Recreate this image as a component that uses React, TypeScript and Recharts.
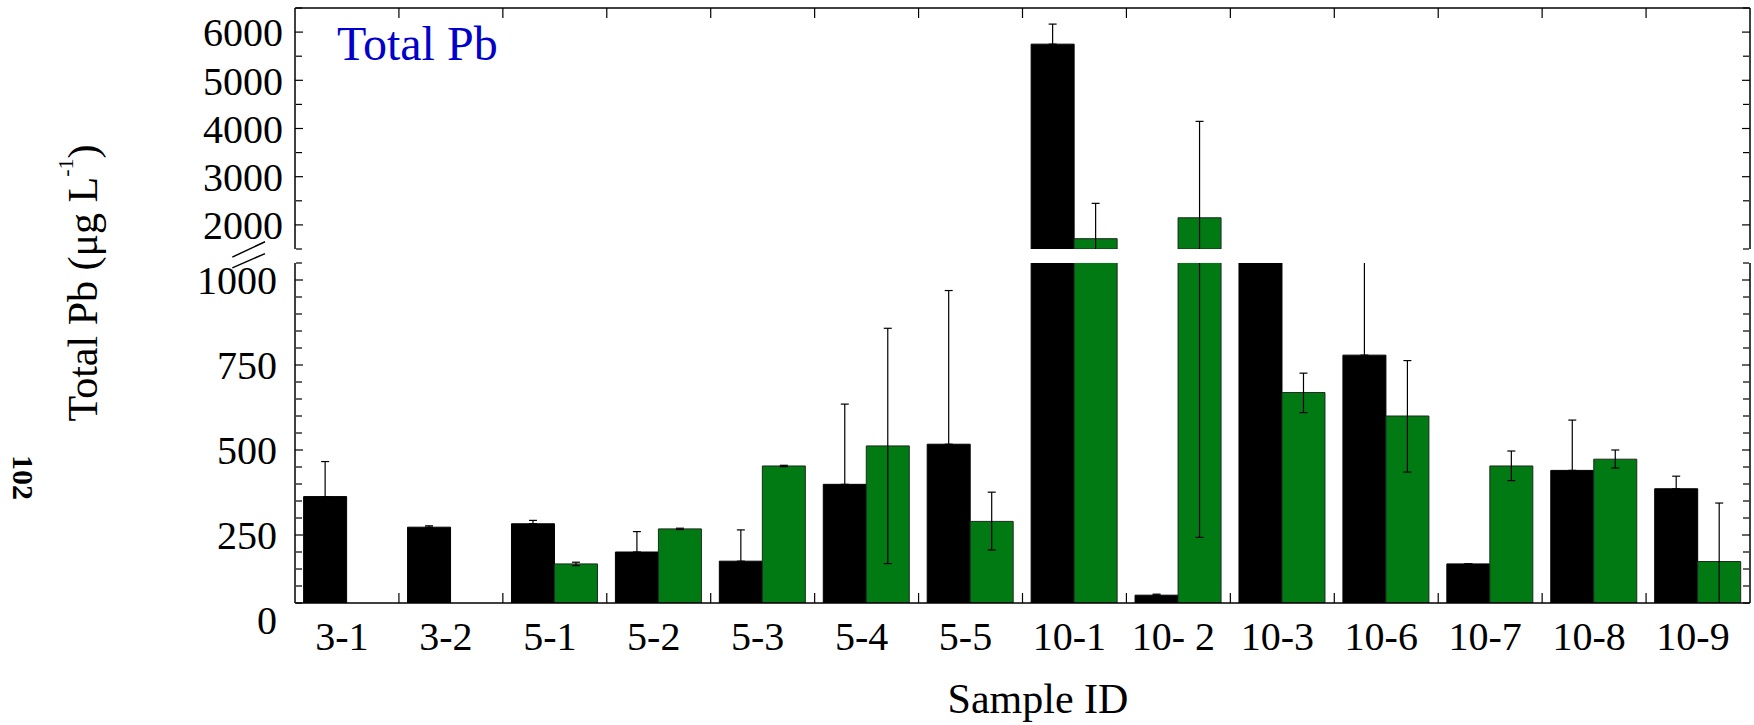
import { BarChart, Bar, XAxis, YAxis, ErrorBar } from 'recharts';

// sample IDs and values (µg/L)
const categories = ['3-1', '3-2', '5-1', '5-2', '5-3', '5-4', '5-5', '10-1', '10- 2', '10-3', '10-6', '10-7', '10-8', '10-9'];
const blackValues = [363, 273, 283, 200, 173, 399, 517, 5750, 73, 1470, 779, 165, 440, 386];
const blackErrors = [103, 4, 10, 60, 92, 236, 452, 416, 3, 30, 330, 0, 148, 37];
const greenValues = [null, null, 165, 268, 453, 512, 290, 1714, 2148, 669, 600, 453, 473, 172];
const greenErrLow = [0, 0, 5, 2, 2, 346, 84, 250, 1905, 59, 165, 43, 26, 172];
const greenErrHigh = [0, 0, 5, 2, 2, 346, 86, 733, 2000, 57, 163, 44, 27, 172];

const upperTicks = [2000, 3000, 4000, 5000, 6000];
const upperMinorTicks = [1500, 2500, 3500, 4500, 5500, 6500];
const lowerTicks = [0, 250, 500, 750, 1000];
const lowerMajorMarks = [250, 500, 750, 1000];
const lowerMinorTicks = [50, 100, 150, 200, 300, 350, 400, 450, 550, 600, 650, 700, 800, 850, 900, 950, 1050];

const UPPER = [1500, 6500];
const LOWER = [50, 1050];

const data = categories.map((name, i) => ({
  name,
  black: blackValues[i],
  blackErr: [0, blackErrors[i]],
  green: greenValues[i],
  greenErr: [greenErrLow[i], greenErrHigh[i]],
}));

// the upper panel only shows what rises above the break
const upperData = data.map((d) => ({
  ...d,
  black: d.black != null && d.black > UPPER[0] ? d.black : null,
  green: d.green != null && d.green > UPPER[0] ? d.green : null,
}));

const FONT = '"Liberation Serif", "Times New Roman", serif';
const GREEN = '#027a13';
const AX = { stroke: '#000', strokeWidth: 1.5 };
const TL = { stroke: '#000', strokeWidth: 1.2 };
const tickStyle = { fontSize: 40, fill: '#000', fontFamily: FONT };

const W = 1754;
const LEFT = 295;
const RIGHT = 4;
const HALF_BAND = (W - LEFT - RIGHT) / categories.length / 2;

const NoLabel = () => <g />;

// bottom axis: sample label under the band, short inward mark at the band's right edge
const XTick = (props: any) => {
  const { x, y, payload, index } = props;
  return (
    <g>
      {index < categories.length - 1 && <line x1={x + HALF_BAND} x2={x + HALF_BAND} y1={y} y2={y - 10} stroke="#000" strokeWidth={1.2} />}
      <text x={x - 5} y={y + 46.5} textAnchor="middle" fontSize={40} fontFamily={FONT} fill="#000">
        {payload.value}
      </text>
    </g>
  );
};

// top axis: only the inward marks at band edges
const TopTick = (props: any) => {
  const { x, y, index } = props;
  if (index >= categories.length - 1) return <g />;
  return <line x1={x + HALF_BAND} x2={x + HALF_BAND} y1={y} y2={y + 10} stroke="#000" strokeWidth={1.2} />;
};

// bars + error bars, drawn in a box that is exactly the plot area so everything is cut at the break
const BarsLayer = ({ rows, domain, top, height }: any) => (
  <div style={{ position: 'absolute', left: 0, top, width: W, height, overflow: 'hidden' }}>
    <BarChart width={W} height={height} data={rows} margin={{ top: 0, right: RIGHT, bottom: 0, left: LEFT }} barCategoryGap="8.3%" barGap={0}>
      <XAxis dataKey="name" hide />
      <YAxis domain={domain} hide allowDataOverflow />
      <Bar dataKey="black" fill="#000" stroke="#000" strokeWidth={1} isAnimationActive={false}>
        <ErrorBar dataKey="blackErr" width={4} stroke="#000" strokeWidth={1.2} direction="y" isAnimationActive={false} />
      </Bar>
      <Bar dataKey="green" fill={GREEN} stroke="#1d2b1d" strokeWidth={1} isAnimationActive={false}>
        <ErrorBar dataKey="greenErr" width={4} stroke="#000" strokeWidth={1.2} direction="y" isAnimationActive={false} />
      </Bar>
    </BarChart>
  </div>
);

// inward tick marks on the left and right frame lines
const frameYAxes = (domain: number[], major: number[], minor: number[]) => [
  <YAxis key="lmaj" yAxisId="lmaj" domain={domain} ticks={major} interval={0} mirror width={1} tick={NoLabel} tickSize={8} axisLine={false} tickLine={TL} allowDataOverflow />,
  <YAxis key="lmin" yAxisId="lmin" domain={domain} ticks={minor} interval={0} mirror width={1} tick={NoLabel} tickSize={6} axisLine={false} tickLine={TL} allowDataOverflow />,
  <YAxis key="rmaj" yAxisId="rmaj" orientation="right" domain={domain} ticks={major} interval={0} mirror width={1} tick={NoLabel} tickSize={8} axisLine={AX} tickLine={TL} allowDataOverflow />,
  <YAxis key="rmin" yAxisId="rmin" orientation="right" domain={domain} ticks={minor} interval={0} mirror width={1} tick={NoLabel} tickSize={6} axisLine={false} tickLine={TL} allowDataOverflow />,
];

const App = () => {
  return (
    <div style={{ position: 'absolute', left: 0, top: 0, width: W, height: 725, background: '#fff' }}>
      <BarsLayer rows={upperData} domain={UPPER} top={8} height={241} />
      <BarsLayer rows={data} domain={LOWER} top={263} height={340} />

      {/* upper panel frame, ticks and labels */}
      <div style={{ position: 'absolute', left: 0, top: 0, width: W, height: 269 }}>
        <BarChart width={W} height={269} data={upperData} margin={{ top: 0, right: RIGHT, bottom: 20, left: 0 }}>
          <XAxis dataKey="name" orientation="top" height={8} interval={0} tickSize={0} tickMargin={0} tickLine={false} axisLine={AX} tick={<TopTick />} />
          <YAxis yAxisId="v" domain={UPPER} ticks={upperTicks} interval={0} width={LEFT} tickSize={0} tickMargin={12} tickLine={false} axisLine={AX} tick={tickStyle} allowDataOverflow />
          {frameYAxes(UPPER, upperTicks, upperMinorTicks)}
        </BarChart>
      </div>

      {/* lower panel frame, ticks and labels */}
      <div style={{ position: 'absolute', left: 0, top: 243, width: W, height: 482 }}>
        <BarChart width={W} height={482} data={data} margin={{ top: 20, right: RIGHT, bottom: 62, left: 0 }}>
          <XAxis dataKey="name" height={60} interval={0} tickLine={false} tickSize={0} tickMargin={0} axisLine={AX} tick={<XTick />} />
          <YAxis yAxisId="v" domain={LOWER} ticks={lowerTicks} interval={0} width={LEFT} tickSize={0} tickMargin={18} tickLine={false} axisLine={AX} tick={tickStyle} allowDataOverflow />
          {frameYAxes(LOWER, lowerMajorMarks, lowerMinorTicks)}
        </BarChart>
      </div>

      {/* titles, axis labels and break marks */}
      <svg width={W} height={725} style={{ position: 'absolute', left: 0, top: 0, pointerEvents: 'none' }} fontFamily={FONT}>
        <text x={337} y={60} fontSize={48} fill="#0000cc">Total Pb</text>
        <text x={97} y={283} fontSize={42} fill="#000" textAnchor="middle" transform="rotate(-90 97 283)">
          Total Pb (μg L<tspan dy={-24} fontSize={22}>-1</tspan><tspan dy={24}>)</tspan>
        </text>
        <text x={1038} y={713} fontSize={42} fill="#000" textAnchor="middle">Sample ID</text>
        <text x={12.7} y={477.5} fontSize={30} fontWeight="bold" fill="#000" textAnchor="middle" transform="rotate(90 12.7 477.5)">102</text>
        <line x1={232.3} y1={257.1} x2={265} y2={241.8} stroke="#000" strokeWidth={1.5} />
        <line x1={232.3} y1={267.9} x2={265} y2={253.6} stroke="#000" strokeWidth={1.5} />
      </svg>
    </div>
  );
};

export default App;
